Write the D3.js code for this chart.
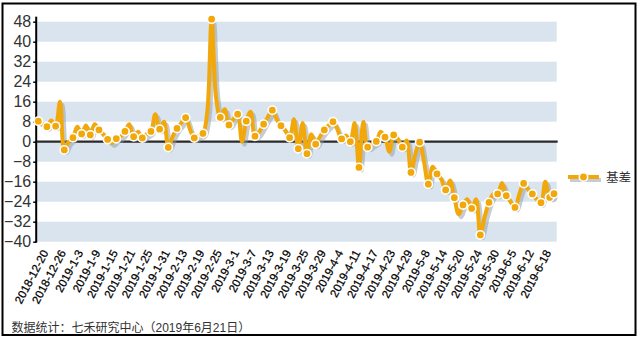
<!DOCTYPE html>
<html><head><meta charset="utf-8">
<script src="https://cdn.jsdelivr.net/npm/d3@7/dist/d3.min.js"></script>
<style>body{margin:0;background:#fff}svg{display:block}</style>
</head><body>
<svg id="chart" width="641" height="340"></svg>
<script>
const dates = [
"2018-12-20","2018-12-21","2018-12-24","2018-12-25","2018-12-26","2018-12-27","2018-12-28",
"2019-1-2","2019-1-3","2019-1-4","2019-1-7","2019-1-8","2019-1-9","2019-1-10","2019-1-11","2019-1-14","2019-1-15","2019-1-16","2019-1-17","2019-1-18","2019-1-21","2019-1-22","2019-1-23","2019-1-24","2019-1-25","2019-1-28","2019-1-29","2019-1-30","2019-1-31",
"2019-2-1","2019-2-11","2019-2-12","2019-2-13","2019-2-14","2019-2-15","2019-2-18","2019-2-19","2019-2-20","2019-2-21","2019-2-22","2019-2-25","2019-2-26","2019-2-27","2019-2-28",
"2019-3-1","2019-3-4","2019-3-5","2019-3-6","2019-3-7","2019-3-8","2019-3-11","2019-3-12","2019-3-13","2019-3-14","2019-3-15","2019-3-18","2019-3-19","2019-3-20","2019-3-21","2019-3-22","2019-3-25","2019-3-26","2019-3-27","2019-3-28","2019-3-29",
"2019-4-1","2019-4-2","2019-4-3","2019-4-4","2019-4-8","2019-4-9","2019-4-10","2019-4-11","2019-4-12","2019-4-15","2019-4-16","2019-4-17","2019-4-18","2019-4-19","2019-4-22","2019-4-23","2019-4-24","2019-4-25","2019-4-26","2019-4-29","2019-4-30",
"2019-5-6","2019-5-7","2019-5-8","2019-5-9","2019-5-10","2019-5-13","2019-5-14","2019-5-15","2019-5-16","2019-5-17","2019-5-20","2019-5-21","2019-5-22","2019-5-23","2019-5-24","2019-5-27","2019-5-28","2019-5-29","2019-5-30","2019-5-31",
"2019-6-3","2019-6-4","2019-6-5","2019-6-6","2019-6-10","2019-6-11","2019-6-12","2019-6-13","2019-6-14","2019-6-17","2019-6-18","2019-6-19","2019-6-20","2019-6-21"
];
const basis = [
8.2,7,6.0,8.5,6.2,16,-3.3,0,1.6,6,
3.1,6.5,2.7,7,4.7,3,0.9,-0.5,1.2,2,
4.1,7,2.0,4,1.5,3,4.1,11,5.0,8,
-2.3,2,5.3,7.5,9.6,5,1.5,2.5,3.3,12,
49,18,9.7,13,6.7,9,11,0,8.2,12,
2.2,4,7,10,12.6,9,6.4,4.5,1.6,9,
-2.8,7.5,-4.8,3,-1,2,4.7,6.5,8,5,
1.1,2.5,0,7.5,-10.3,8,-2.2,-1,0.1,4,
1.8,-4,2.7,1,-2.2,0.5,-12.3,-5,-0.2,-8,
-17,-10,-12.9,-15,-19.3,-15.5,-22.4,-29,-25.3,-23,
-26.7,-23,-37.3,-30,-24.3,-21,-20.9,-16.5,-21.6,-24,
-26.3,-21,-16.7,-19,-20.9,-23,-24.4,-16,-22.3,-20.8
];
const yTicks = [-40,-32,-24,-16,-8,0,8,16,24,32,40,48];
const seriesName = "基差";
const footerText = "数据统计：七禾研究中心（2019年6月21日）";

const ORANGE = "#f2a80a";
const BAND = "#d9e4ef";
const svg = d3.select("#chart");

const x = d3.scalePoint().domain(dates).range([38.3, 554]);
const y = d3.scaleLinear().domain([-40, 48]).range([241.7, 21.7]);
const plotL = 36.7, plotR = 556.7;

// border
svg.append("rect").attr("x",2.5).attr("y",3.5).attr("width",633).attr("height",331.5)
  .attr("fill","#fff").attr("stroke","#000").attr("stroke-width",2);

// bands
const bandStarts = yTicks.slice(0,-1).filter((d,i)=>i%2===0);
svg.append("g").selectAll("rect").data(bandStarts).join("rect")
  .attr("x",plotL).attr("width",plotR-plotL)
  .attr("y",d=>y(d+8)).attr("height",d=>y(d)-y(d+8))
  .attr("fill",BAND);

// y axis
const yAxis = svg.append("g").attr("transform",`translate(${plotL-0.5},0)`)
  .call(d3.axisLeft(y).tickValues(yTicks).tickSize(3).tickPadding(2));
yAxis.select(".domain").remove();
yAxis.selectAll(".tick line").attr("stroke","#000").attr("stroke-width",1.5);
yAxis.selectAll("text").attr("font-family","'Liberation Sans', Arial, sans-serif")
  .attr("font-size",16).attr("fill","#333");
svg.append("line").attr("x1",plotL-0.5).attr("x2",plotL-0.5)
  .attr("y1",y(48)-5).attr("y2",y(-40)+1).attr("stroke","#000").attr("stroke-width",2);

// zero line
svg.append("line").attr("x1",plotL).attr("x2",plotR+1)
  .attr("y1",y(0)).attr("y2",y(0)).attr("stroke","#2a2a2a").attr("stroke-width",2.2);

// x axis labels
const xAxis = svg.append("g").attr("transform",`translate(0,${y(-40)})`)
  .call(d3.axisBottom(x).tickValues(dates.filter((d,i)=>i%4===0)).tickSize(0));
xAxis.select(".domain").remove();
xAxis.selectAll("text")
  .attr("font-family","'Liberation Sans', Arial, sans-serif")
  .attr("font-size",11.5).attr("fill","#000")
  .attr("stroke","#000").attr("stroke-width",0.25)
  .attr("text-anchor","end")
  .attr("y",0).attr("dy",0)
  .attr("transform","translate(10,11) rotate(-62)");

// line
const idx = d3.range(basis.length);
const line = d3.line().x(i=>x(dates[i])).y(i=>y(basis[i])).curve(d3.curveCatmullRom.alpha(0.5));
svg.append("path").datum(idx).attr("d",line).attr("fill","none")
  .attr("stroke","#8d99a8").attr("stroke-opacity",0.5).attr("stroke-width",4)
  .attr("stroke-linejoin","round").attr("transform","translate(2.5,3)");
svg.append("path").datum(idx).attr("d",line).attr("fill","none")
  .attr("stroke",ORANGE).attr("stroke-width",4).attr("stroke-linejoin","round");

// markers
const markIdx = idx.filter(i=>i%2===0 || i===basis.length-1);
svg.append("g").selectAll("circle").data(markIdx).join("circle")
  .attr("cx",i=>x(dates[i])).attr("cy",i=>y(basis[i])).attr("r",4.2)
  .attr("fill",ORANGE).attr("stroke","#fff").attr("stroke-width",1.6);

// legend
const lg = svg.append("g");
lg.append("line").attr("x1",568+2).attr("x2",599+2).attr("y1",177+3).attr("y2",177+3)
  .attr("stroke","#8d99a8").attr("stroke-opacity",0.5).attr("stroke-width",4);
lg.append("line").attr("x1",568).attr("x2",599).attr("y1",177).attr("y2",177)
  .attr("stroke",ORANGE).attr("stroke-width",4);
lg.append("circle").attr("cx",583.5).attr("cy",177).attr("r",4.2)
  .attr("fill",ORANGE).attr("stroke","#fff").attr("stroke-width",1.6);
lg.append("text").attr("x",606).attr("y",181.5).text(seriesName)
  .attr("font-family","'Noto Sans CJK SC', sans-serif").attr("font-size",12.5).attr("fill","#333");

// footer
svg.append("text").attr("x",11.5).attr("y",332).text(footerText)
  .attr("font-family","'Liberation Sans', 'Noto Sans CJK SC', sans-serif")
  .attr("font-size",12).attr("fill","#333");
</script>
</body></html>
